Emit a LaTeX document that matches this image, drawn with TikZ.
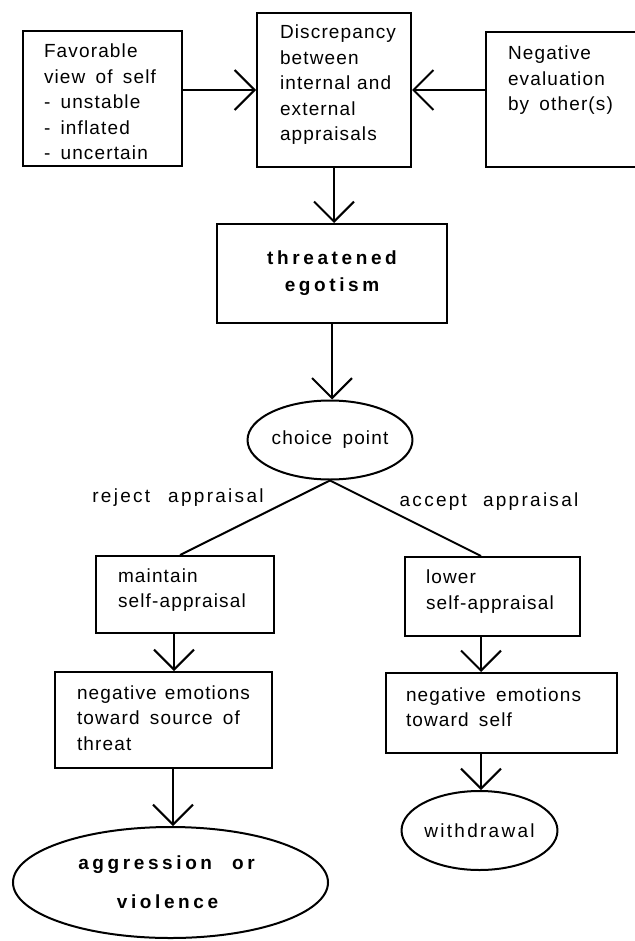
\documentclass[tikz,border=0pt]{standalone}
\usepackage{fontspec}
\setmainfont{Liberation Sans}[LetterSpace=6,WordSpace=1.6]
\newfontfamily\widefont{Liberation Sans}[LetterSpace=12]
\newfontfamily\boldwide{Liberation Sans}[LetterSpace=19]
\usetikzlibrary{shapes.geometric,arrows.meta}
\hfuzz=200pt
\hbadness=10000
% text block inside a box: height, width, lines (top aligned)
\newcommand{\boxtxt}[3]{\parbox[c][#1][t]{#2}{#3}}

\begin{document}
\begin{tikzpicture}[x=1pt,y=-1pt,
  every node/.style={font=\fontsize{19}{25.5}\selectfont},
  box/.style={draw, line width=2pt, rectangle, inner sep=0pt},
  oval/.style={draw, line width=2pt, ellipse, inner sep=0pt},
  link/.style={line width=2pt},
  arr/.style={line width=2pt, -{Straight Barb[length=20pt,width=40pt]}},
  lab/.style={font=\widefont\fontsize{19}{25.5}\selectfont, inner sep=0pt}
]
\useasboundingbox (0,0) rectangle (634,941);
\fill[white] (0,0) rectangle (634,941);

% top row
\node[box, minimum width=159pt, minimum height=135pt] (fav) at (102.5,98.5)
  {\boxtxt{108.6pt}{117pt}{Favorable\\view~of~self\\-~unstable\\-~inflated\\-~uncertain}};
\node[box, minimum width=154pt, minimum height=154pt] (disc) at (334,90)
  {\boxtxt{129.6pt}{108pt}{Discrepancy\\between\\internal~and\\external\\appraisals}};
\node[box, minimum width=154pt, minimum height=135pt] (neg) at (563,99.5)
  {\boxtxt{106.6pt}{110pt}{Negative\\evaluation\\by~other(s)}};

% central column
\node[box, minimum width=230pt, minimum height=99pt, align=center,
      font=\boldwide\bfseries\fontsize{19}{27}\selectfont] (threat) at (332,273.5)
  {threatened\\egotism};
\node[oval, minimum width=151pt, minimum height=79pt] (choice) at (330,440) {choice point};

% branch labels
\node[lab] (rej) at (178,498) {reject\hspace{18pt}appraisal};
\node[lab] (acc) at (489,502) {accept\hspace{16pt}appraisal};

% left branch
\node[box, minimum width=178pt, minimum height=77pt] (maint) at (185,594.5)
  {\boxtxt{52pt}{134pt}{maintain\\self-appraisal}};
\node[box, minimum width=217pt, minimum height=96pt] (negL) at (163.5,720)
  {\boxtxt{69pt}{173pt}{negative~emotions\\toward~source~of\\threat}};
\node[oval, minimum width=315pt, minimum height=111pt, align=center,
      font=\boldwide\bfseries\fontsize{19}{39}\selectfont] (aggr) at (170.5,882.5)
  {\hspace*{-8pt}aggression\hspace{20pt}or\\\hspace*{-6pt}violence};

% right branch
\node[box, minimum width=175pt, minimum height=79pt] (lower) at (492.5,596.5)
  {\boxtxt{52.8pt}{133pt}{lower\\self-appraisal}};
\node[box, minimum width=231pt, minimum height=80pt] (negR) at (501.5,713)
  {\boxtxt{51.2pt}{191pt}{negative~emotions\\toward~self}};
\node[oval, minimum width=155pt, minimum height=79pt, font=\widefont\fontsize{19}{25.5}\selectfont]
  (withd) at (479.5,830.5) {withdrawal};

% connectors
\draw[arr] (fav.east |- disc.west) -- (disc.west);
\draw[arr] (neg.west |- disc.east) -- (disc.east);
\draw[arr] (disc.south) -- (disc.south |- threat.north);
\draw[arr] (threat.south) -- (threat.south |- choice.north);
\draw[link] (choice.south) -- ([xshift=-5pt]maint.north);
\draw[link] (choice.south) -- ([xshift=-11.5pt]lower.north);
\draw[arr] ([xshift=-11pt]maint.south) -- ([xshift=-11pt]maint.south |- negL.north);
\draw[arr] ([xshift=9.5pt]negL.south) -- ([xshift=9.5pt]negL.south |- aggr.north);
\draw[arr] ([xshift=-11.5pt]lower.south) -- ([xshift=-11.5pt]lower.south |- negR.north);
\draw[arr] ([xshift=-20.5pt]negR.south) -- ([xshift=-20.5pt]negR.south |- withd.north);
\end{tikzpicture}
\end{document}
